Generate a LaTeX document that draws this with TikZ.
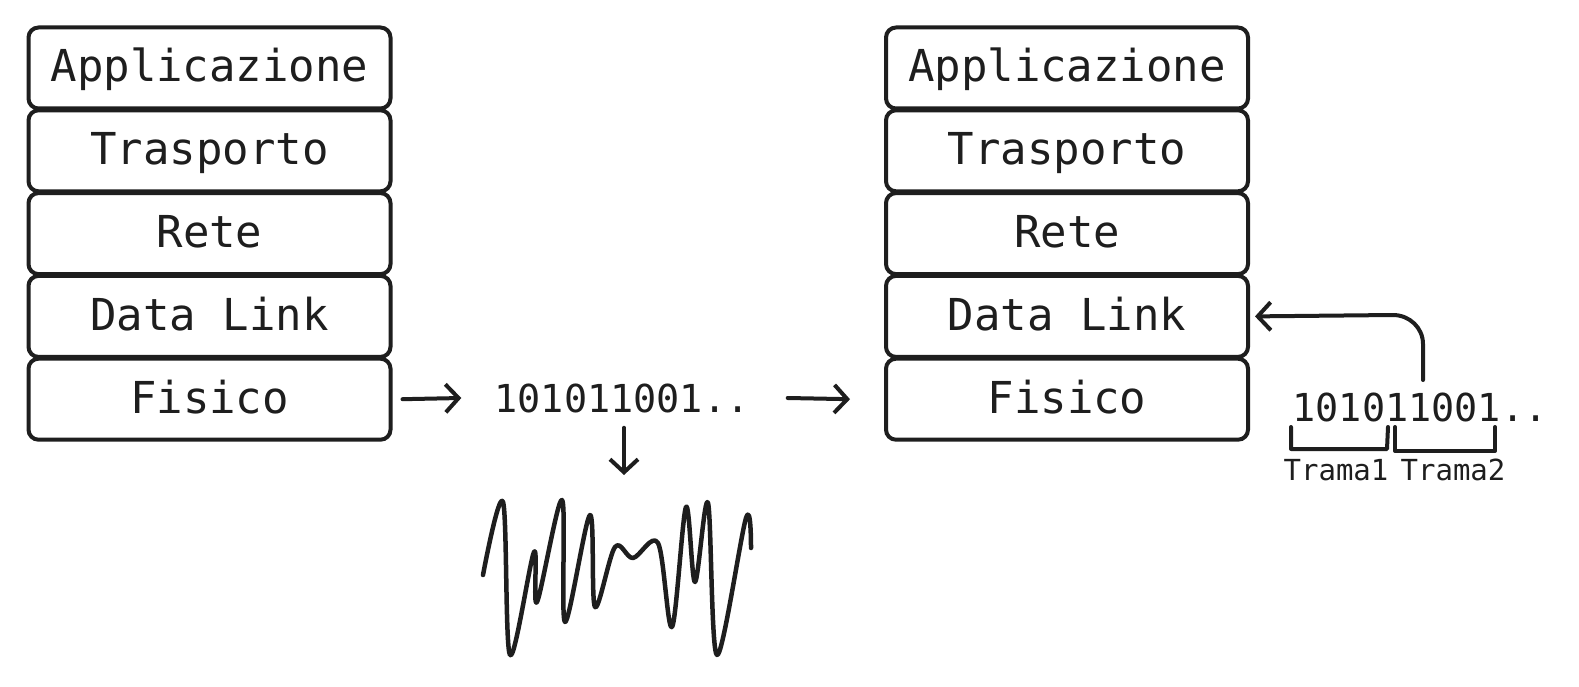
\documentclass[tikz,border=0pt]{standalone}
\usepackage{fontspec}
\setmonofont{DejaVu Sans Mono}
\usetikzlibrary{arrows.meta}
\definecolor{ink}{HTML}{1E1E1E}
\begin{document}
\begin{tikzpicture}[x=1pt,y=-1pt,
  layer/.style={draw=ink,line width=4pt,rounded corners=10pt,minimum width=362pt,minimum height=81pt,inner sep=0pt,text height=34pt,text depth=6pt,font=\ttfamily\fontsize{44}{52}\selectfont,text=ink},
  bitstxt/.style={inner sep=0pt,font=\ttfamily\fontsize{38.5}{46}\selectfont,text=ink},
  tramatxt/.style={inner sep=0pt,font=\ttfamily\fontsize{29}{35}\selectfont,text=ink},
  conn/.style={draw=ink,line width=4pt,line cap=round,-{Straight Barb[length=13pt,width=28pt,line width=4pt]}},
  strokeline/.style={draw=ink,line width=4pt,line cap=round,line join=round}]
\useasboundingbox (0,0) rectangle (1579,687);
\fill[white] (0,0) rectangle (1579,687);
% left stack
\node[layer] (la) at (209.5,68) {Applicazione};
\node[layer] (lt) at (209.5,150.8) {Trasporto};
\node[layer] (lr) at (209.5,233.6) {Rete};
\node[layer] (ld) at (209.5,316.4) {Data Link};
\node[layer] (lf) at (209.5,399.2) {Fisico};
% right stack
\node[layer] (ra) at (1067,68) {Applicazione};
\node[layer] (rt) at (1067,150.8) {Trasporto};
\node[layer] (rr) at (1067,233.6) {Rete};
\node[layer] (rd) at (1067,316.4) {Data Link};
\node[layer] (rf) at (1067,399.2) {Fisico};
% bits
\node[bitstxt] (bits) at (622,398) {101011001..};
\node[bitstxt] (rbits) at (1420,407) {101011001..};
\coordinate (wavetop) at (624,475);
\coordinate (rup) at (1423,380);
% arrows
\draw[conn] ([xshift=10pt]lf.east) -- ([xshift=-33pt]bits.west);
\draw[conn] ([xshift=38pt]bits.east) -- ([xshift=-34pt]rf.west);
\draw[conn] ([xshift=2pt,yshift=-15pt]bits.south) -- (wavetop);
\draw[conn] (rup) -- (1423,344) to[out=90,in=0] (1393,315) -- ([xshift=5pt]rd.east);
% brackets
\draw[strokeline] (1291,427) -- (1291,449) -- (1387,449) -- (1388,427);
\draw[strokeline] (1395,427) -- (1395,451) -- (1495,451) -- (1495,427);
\node[tramatxt] (t1) at (1336,470) {Trama1};
\node[tramatxt] (t2) at (1453,470) {Trama2};
% wave
\draw[strokeline,line width=4.5pt] plot[smooth,tension=0.55] coordinates {
 (483,575) (503,502) (510,655) (534,552) (537,602) (562,500) (565,622)
 (590,515) (595,607) (615,547) (633,558) (658,543) (672,627) (686,507)
 (695,582) (708,503) (717,655) (746,518) (751,548)};
\end{tikzpicture}
\end{document}
